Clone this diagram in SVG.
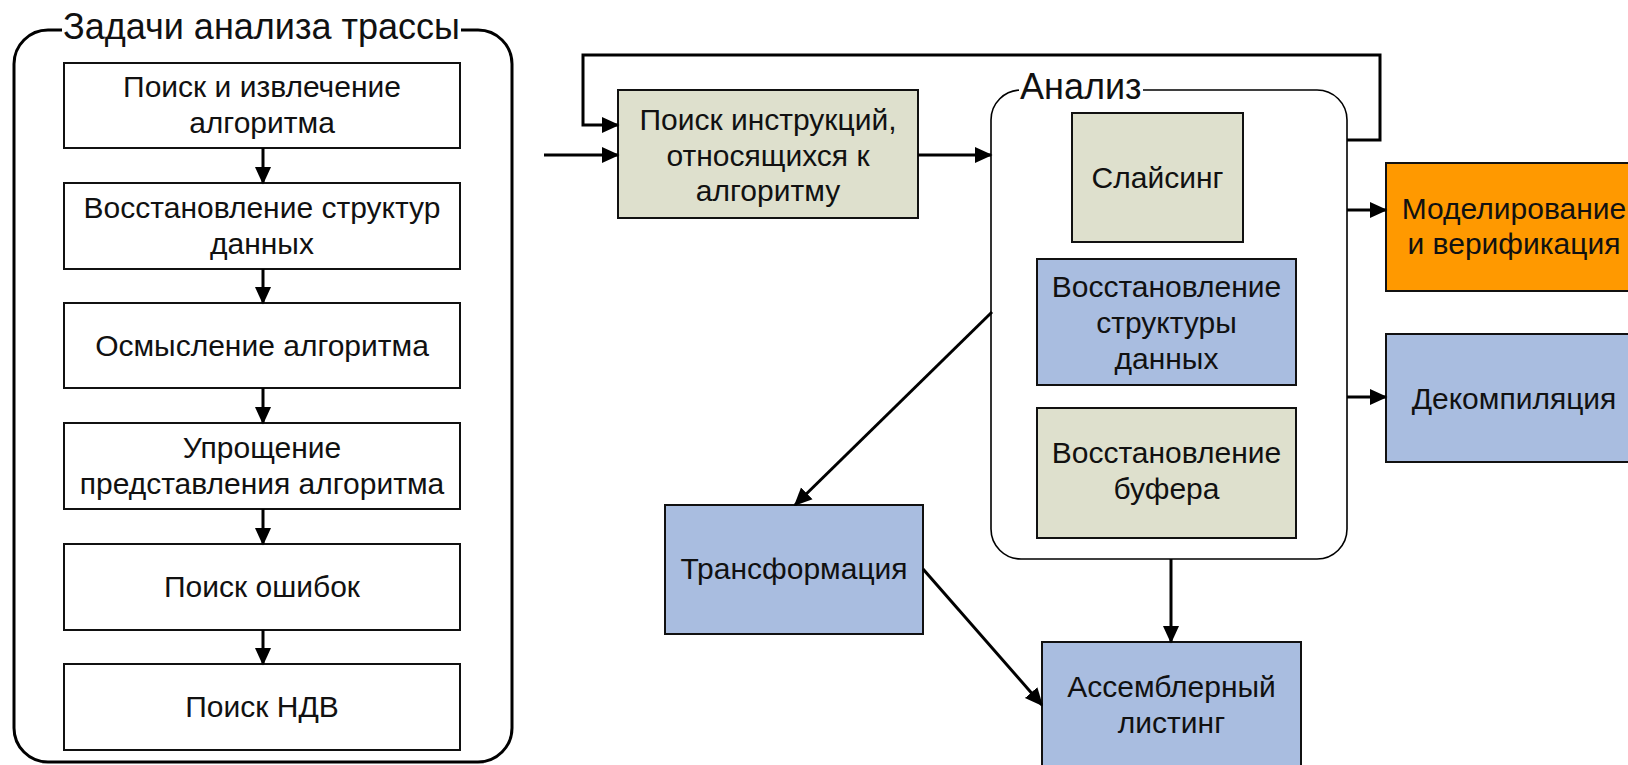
<svg xmlns="http://www.w3.org/2000/svg" width="1628" height="765" viewBox="0 0 1628 765">
<defs>
<style>
text{font-family:"Liberation Sans",Arial,sans-serif;font-size:30px;fill:#111;text-anchor:middle}
.title{font-size:36px;text-anchor:start}
.box{stroke:#111;stroke-width:2}
.white{fill:#fff}
.beige{fill:#dee0cd}
.blue{fill:#a9bde0}
.orange{fill:#ff9900}
.conn{fill:none;stroke:#000;stroke-width:3;marker-end:url(#ah)}
</style>
<marker id="ah" viewBox="0 0 12 12" refX="11" refY="6" markerWidth="6" markerHeight="6" orient="auto" markerUnits="strokeWidth">
<path d="M0,0.5 L12,6 L0,11.5 z" fill="#000"/>
</marker>
</defs>
<rect width="1628" height="765" fill="#fff"/>

<g id="container-tasks">
<rect x="14" y="30" width="498" height="732" rx="34" ry="34" fill="none" stroke="#000" stroke-width="3"/>
<rect x="62" y="12" width="399" height="36" fill="#fff"/>
<text class="title" x="63" y="39">Задачи анализа трассы</text>
</g>

<g id="t1"><rect class="box white" x="64" y="63" width="396" height="85"/><text x="262" y="97">Поиск и извлечение</text><text x="262" y="133">алгоритма</text></g>
<g id="t2"><rect class="box white" x="64" y="183" width="396" height="86"/><text x="262" y="218">Восстановление структур</text><text x="262" y="254">данных</text></g>
<g id="t3"><rect class="box white" x="64" y="303" width="396" height="85"/><text x="262" y="356">Осмысление алгоритма</text></g>
<g id="t4"><rect class="box white" x="64" y="423" width="396" height="86"/><text x="262" y="458">Упрощение</text><text x="262" y="494">представления алгоритма</text></g>
<g id="t5"><rect class="box white" x="64" y="544" width="396" height="86"/><text x="262" y="597">Поиск ошибок</text></g>
<g id="t6"><rect class="box white" x="64" y="664" width="396" height="86"/><text x="262" y="717">Поиск НДВ</text></g>

<g id="search"><rect class="box beige" x="618" y="90" width="300" height="128"/><text x="768" y="130">Поиск инструкций,</text><text x="768" y="166">относящихся к</text><text x="768" y="201">алгоритму</text></g>

<g id="analysis">
<rect x="991" y="90" width="356" height="469" rx="30" ry="30" fill="none" stroke="#000" stroke-width="1.6"/>
<rect x="1019" y="72" width="124" height="30" fill="#fff"/>
<text class="title" x="1020" y="99">Анализ</text>
</g>
<g id="slicing"><rect class="box beige" x="1072" y="113" width="171" height="129"/><text x="1157.5" y="188">Слайсинг</text></g>
<g id="restore-struct"><rect class="box blue" x="1037" y="259" width="259" height="126"/><text x="1166.5" y="297">Восстановление</text><text x="1166.5" y="333">структуры</text><text x="1166.5" y="369">данных</text></g>
<g id="restore-buf"><rect class="box beige" x="1037" y="408" width="259" height="130"/><text x="1166.5" y="463">Восстановление</text><text x="1166.5" y="499">буфера</text></g>

<g id="modeling"><rect class="box orange" x="1386" y="163" width="262" height="128"/><text x="1514" y="219">Моделирование</text><text x="1514" y="254">и верификация</text></g>
<g id="decompile"><rect class="box blue" x="1386" y="334" width="262" height="128"/><text x="1514" y="409">Декомпиляция</text></g>
<g id="transform"><rect class="box blue" x="665" y="505" width="258" height="129"/><text x="794" y="579">Трансформация</text></g>
<g id="listing"><rect class="box blue" x="1042" y="642" width="259" height="130"/><text x="1171.5" y="697">Ассемблерный</text><text x="1171.5" y="733">листинг</text></g>

<g id="connectors">
<line class="conn" x1="263" y1="148" x2="263" y2="183"/>
<line class="conn" x1="263" y1="269" x2="263" y2="303"/>
<line class="conn" x1="263" y1="388" x2="263" y2="423"/>
<line class="conn" x1="263" y1="509" x2="263" y2="544"/>
<line class="conn" x1="263" y1="630" x2="263" y2="664"/>
<line class="conn" x1="544" y1="155" x2="618" y2="155"/>
<path class="conn" d="M1347,140 H1380 V55 H583 V125 H618"/>
<line class="conn" x1="918" y1="155" x2="991" y2="155"/>
<line class="conn" x1="1347" y1="210" x2="1386" y2="210"/>
<line class="conn" x1="1347" y1="397" x2="1386" y2="397"/>
<line class="conn" x1="992" y1="312" x2="795" y2="505"/>
<line class="conn" x1="1171" y1="559" x2="1171" y2="642"/>
<line class="conn" x1="923" y1="569" x2="1042" y2="705"/>
</g>
</svg>
